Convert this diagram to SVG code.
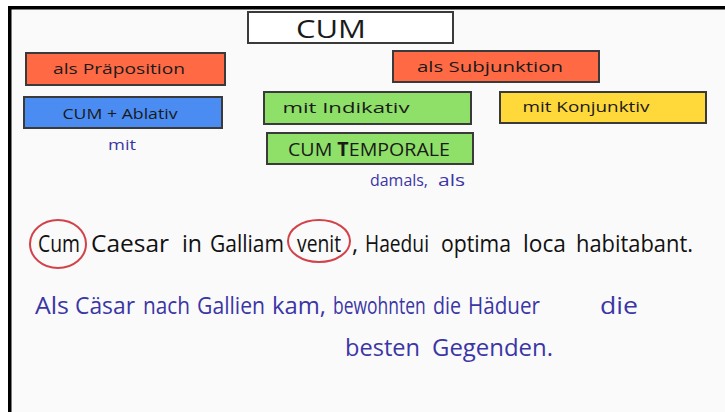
<svg xmlns="http://www.w3.org/2000/svg" width="725" height="412" viewBox="0 0 725 412">
<style>
.card{stroke:#3a3a3a;stroke-width:2}
.red{fill:#ff6a45}
.blue{fill:#4a8cf2}
.green{fill:#8fe068}
.yellow{fill:#ffd83a}
.lbl{font-family:"Open Sans","DejaVu Sans",sans-serif;fill:#1a1a1a;text-anchor:middle}
.hand{font-family:"Open Sans","DejaVu Sans",sans-serif}
.lat{font-family:"Open Sans","DejaVu Sans",sans-serif;font-size:24px;fill:#111}
.de{font-family:"Open Sans","DejaVu Sans",sans-serif;font-size:23px;fill:#3b36a6}
.note{fill:#3b36a6}
.ring{fill:none;stroke:#d2424a;stroke-width:2}
</style>
<rect x="0" y="0" width="725" height="412" fill="#fafafa"/>
<rect x="0" y="0" width="725" height="6" fill="#ffffff"/>
<rect x="0" y="0" width="8" height="412" fill="#ffffff"/>
<rect x="8" y="6" width="717" height="3.5" fill="#000"/>
<rect x="8" y="6" width="3.5" height="406" fill="#000"/>

<g id="cum">
<rect class="card" x="248" y="12" width="205" height="31" fill="#ffffff"/>
<text class="lbl" x="331" y="38" font-size="25" textLength="70" lengthAdjust="spacingAndGlyphs">CUM</text>
</g>
<g id="praeposition">
<rect class="card red" x="26" y="53" width="199" height="32"/>
<text class="lbl" x="119" y="74" font-size="15" textLength="132" lengthAdjust="spacingAndGlyphs">als Präposition</text>
</g>
<g id="ablativ">
<rect class="card blue" x="24" y="97" width="198" height="31"/>
<text class="lbl" x="120" y="119" font-size="14" textLength="115" lengthAdjust="spacingAndGlyphs">CUM + Ablativ</text>
</g>
<g id="mit">
<text class="hand note" x="108" y="150" font-size="15" textLength="28" lengthAdjust="spacingAndGlyphs">mit</text>
</g>
<g id="subjunktion">
<rect class="card red" x="393" y="51" width="206" height="31"/>
<text class="lbl" x="490" y="72" font-size="15" textLength="146" lengthAdjust="spacingAndGlyphs">als Subjunktion</text>
</g>
<g id="indikativ">
<rect class="card green" x="264" y="92" width="207" height="32"/>
<text class="lbl" x="346" y="113" font-size="14" textLength="127" lengthAdjust="spacingAndGlyphs">mit Indikativ</text>
</g>
<g id="temporale">
<rect class="card green" x="267" y="133" width="206" height="31"/>
<text class="lbl" x="369" y="156" font-size="19" textLength="162" lengthAdjust="spacingAndGlyphs">CUM <tspan font-weight="bold">T</tspan>EMPORALE</text>
</g>
<g id="damals">
<text class="hand note" x="370" y="186" font-size="17" textLength="58" lengthAdjust="spacingAndGlyphs">damals,</text>
<text class="hand note" x="438" y="186" font-size="17" textLength="27" lengthAdjust="spacingAndGlyphs">als</text>
</g>
<g id="konjunktiv">
<rect class="card yellow" x="500" y="92" width="206" height="31"/>
<text class="lbl" x="586" y="112" font-size="14" textLength="127" lengthAdjust="spacingAndGlyphs">mit Konjunktiv</text>
</g>

<g id="latin">
<text class="lat" x="38" y="252" textLength="42" lengthAdjust="spacingAndGlyphs">Cum</text>
<text class="lat" x="91" y="252" textLength="78" lengthAdjust="spacingAndGlyphs">Caesar</text>
<text class="lat" x="182" y="252" textLength="20" lengthAdjust="spacingAndGlyphs">in</text>
<text class="lat" x="210" y="252" textLength="74" lengthAdjust="spacingAndGlyphs">Galliam</text>
<text class="lat" x="297" y="252" textLength="44" lengthAdjust="spacingAndGlyphs">venit</text>
<text class="lat" x="352" y="252">,</text>
<text class="lat" x="365" y="252" textLength="64" lengthAdjust="spacingAndGlyphs">Haedui</text>
<text class="lat" x="441" y="252" textLength="70" lengthAdjust="spacingAndGlyphs">optima</text>
<text class="lat" x="523" y="252" textLength="43" lengthAdjust="spacingAndGlyphs">loca</text>
<text class="lat" x="576" y="252" textLength="117" lengthAdjust="spacingAndGlyphs">habitabant.</text>
<ellipse class="ring" cx="58" cy="244" rx="28" ry="24"/>
<ellipse class="ring" cx="319" cy="241" rx="31" ry="21"/>
</g>
<g id="german">
<text class="de" x="35" y="314" textLength="34" lengthAdjust="spacingAndGlyphs">Als</text>
<text class="de" x="75" y="314" textLength="60" lengthAdjust="spacingAndGlyphs">Cäsar</text>
<text class="de" x="143" y="314" textLength="47" lengthAdjust="spacingAndGlyphs">nach</text>
<text class="de" x="197" y="314" textLength="68" lengthAdjust="spacingAndGlyphs">Gallien</text>
<text class="de" x="272" y="314" textLength="54" lengthAdjust="spacingAndGlyphs">kam,</text>
<text class="de" transform="translate(333 314) scale(0.76 1)">bewohnten</text>
<text class="de" x="433" y="314" textLength="28" lengthAdjust="spacingAndGlyphs">die</text>
<text class="de" x="468" y="314" textLength="72" lengthAdjust="spacingAndGlyphs">Häduer</text>
<text class="de" x="600" y="314" textLength="38" lengthAdjust="spacingAndGlyphs">die</text>
<text class="de" x="345" y="356" textLength="75" lengthAdjust="spacingAndGlyphs">besten</text>
<text class="de" x="432" y="356" textLength="121" lengthAdjust="spacingAndGlyphs">Gegenden.</text>
</g>
</svg>
